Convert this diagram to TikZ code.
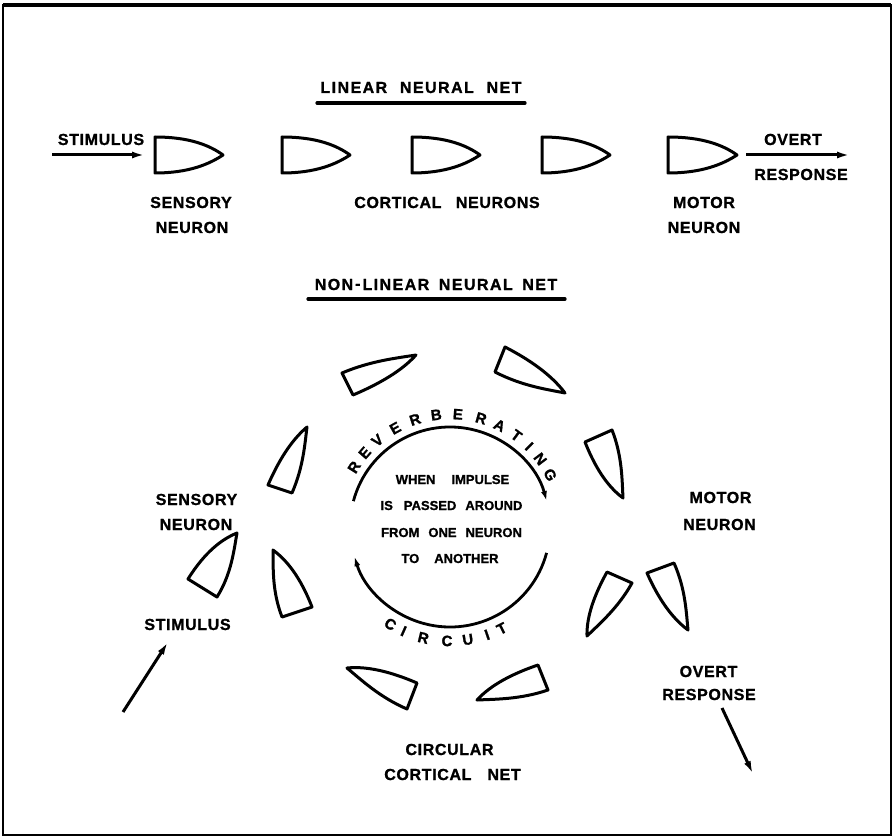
\documentclass[tikz,border=0pt]{standalone}
\usepackage{fontspec}
\setmainfont{Liberation Sans}
\newfontfamily\hb{Liberation Sans Bold}[FakeBold=1.2]
\newfontfamily\hbs{Liberation Sans Bold}[FakeBold=1.2,LetterSpace=4]
\newfontfamily\hbt{Liberation Sans Bold}[FakeBold=1.2,LetterSpace=9]
\usetikzlibrary{calc,arrows.meta}
\tikzset{
  neur/.style={line width=3pt, line join=round},
  lbl/.style={font=\hbs\fontsize{16}{16}\selectfont, inner sep=0pt, anchor=base},
  ttl/.style={font=\hbt\fontsize{16}{16}\selectfont, inner sep=0pt, anchor=base},
  inr/.style={font=\hb\fontsize{13}{13}\selectfont, inner sep=0pt, anchor=base},
  arcl/.style={font=\hb\fontsize{15}{15}\selectfont, inner sep=0pt},
  arr/.style={line width=3pt, -{Latex[length=13pt,width=7pt]}},
  circarr/.style={line width=2.8pt, -{Latex[length=10pt,width=6pt]}},
  uline/.style={line width=3.2pt, line cap=round}
}
% neuron: A = more curved back corner, B = other back corner, T = tip
\newcommand{\nrn}[4]{%
  \coordinate (#4A) at (#1); \coordinate (#4B) at (#2); \coordinate (#4T) at (#3);
  \coordinate (#4M) at ($(#4A)!0.5!(#4B)$);
  \coordinate (#4a1) at ($(#4A)+0.5*(#4T)-0.5*(#4M)$);
  \coordinate (#4a2) at ($0.8*(#4T)+0.55*(#4A)-0.35*(#4M)$);
  \coordinate (#4b1) at ($(#4B)+0.42*(#4T)-0.42*(#4M)$);
  \coordinate (#4b2) at ($0.75*(#4T)+0.38*(#4B)-0.13*(#4M)$);
  \draw[neur] (#4A) .. controls (#4a1) and (#4a2) .. (#4T) .. controls (#4b2) and (#4b1) .. (#4B) -- cycle;}
\newcommand{\nrnc}[4]{%
  \coordinate (#4A) at (#1); \coordinate (#4B) at (#2); \coordinate (#4T) at (#3);
  \coordinate (#4M) at ($(#4A)!0.5!(#4B)$);
  \coordinate (#4a1) at ($(#4A)+0.5*(#4T)-0.5*(#4M)$);
  \coordinate (#4a2) at ($0.8*(#4T)+0.55*(#4A)-0.35*(#4M)$);
  \coordinate (#4b1) at ($(#4B)+0.5*(#4T)-0.5*(#4M)$);
  \coordinate (#4b2) at ($0.8*(#4T)+0.5*(#4B)-0.3*(#4M)$);
  \draw[neur] (#4A) .. controls (#4a1) and (#4a2) .. (#4T) .. controls (#4b2) and (#4b1) .. (#4B) -- cycle;}
\begin{document}
\begin{tikzpicture}[x=1pt,y=-1pt]
\useasboundingbox (0,0) rectangle (894,837);
% frame
\draw[line width=2.2pt] (3,5) rectangle (891,835);
\draw[line width=4pt] (3,5) -- (891,5);

% ---------- linear neural net ----------
\node[ttl] (t1) at (421,93) {LINEAR\hspace{0.8em}NEURAL\hspace{0.8em}NET};
\draw[uline] (317,103) -- (525,103);

\nrnc{155,137}{155,173}{223,155}{L1}
\nrnc{282,137}{282,173}{350,155}{L2}
\nrnc{412,137}{412,173}{480,155}{L3}
\nrnc{542,137}{542,173}{610,155}{L4}
\nrnc{668,137}{668,173}{737,155}{L5}

\node[lbl] (stim1) at (101,145) {STIMULUS};
\coordinate (stimS) at (52,155);
\draw[arr, shorten >=10pt] (stimS) -- (L1M);
\node[lbl] (ov1) at (793,145) {OVERT};
\node[lbl] (rs1) at (801,180) {RESPONSE};
\coordinate (ovE) at (850,155);
\draw[arr, shorten <=9pt] (L5T) -- (ovE);

\node[lbl] (sn1) at (191,208) {SENSORY};
\node[lbl] (sn2) at (192,233) {NEURON};
\node[lbl] (cn1) at (447,208) {CORTICAL\hspace{0.9em}NEURONS};
\node[lbl] (mn1) at (704,208) {MOTOR};
\node[lbl] (mn2) at (704,233) {NEURON};

% ---------- non-linear neural net ----------
\node[ttl] (t2) at (436,290) {NON\hspace{2pt}\raisebox{1pt}{-}\hspace{2pt}LINEAR\hspace{0.6em}NEURAL\hspace{0.6em}NET};
\draw[uline] (308,299) -- (565,299);

\nrn{353,395}{342,373}{416,355}{C1}
\nrn{505,347}{495,372}{565,393}{C2}
\nrn{585,442}{612,430}{623,498}{C3}
\nrn{268,485}{292,493}{307,427}{C4}
\nrn{188,579}{217,597}{237,533}{C5}
\nrn{312,607}{282,617}{273,550}{C6}
\nrn{417,683}{407,709}{347,668}{C7}
\nrn{538,665}{548,690}{477,700}{C8}
\nrn{607,572}{632,583}{587,636}{C9}
\nrn{647,573}{674,563}{688,630}{C10}

% reverberating circuit
\coordinate (ctr) at (450,527);
\draw[circarr] ($(ctr)+(-165:100)$) arc[start angle=-165, end angle=-15, radius=100];
\draw[circarr] ($(ctr)+(15:100)$) arc[start angle=15, end angle=163, radius=100];

\foreach \ch/\ang [count=\i] in {R/148,E/139,V/130,E/119,R/108,B/97,E/86,R/74,A/64,T/54,I/45.5,N/37,G/27.5}
  \node[arcl, rotate=\ang-90] (rv\i) at ({450+113*cos(\ang)},{527-113*sin(\ang)}) {\ch};
\foreach \ch/\ang [count=\i] in {C/238.5,I/246,R/256.5,C/268.5,U/279,I/289,T/297}
  \node[arcl, rotate=\ang+90] (cc\i) at ({450+114*cos(\ang)},{527-114*sin(\ang)}) {\ch};

\node[inr] (w1) at (452.5,484) {WHEN\hspace{16pt}IMPULSE};
\node[inr] (w2) at (451.5,510) {IS\hspace{11pt}PASSED\hspace{9pt}AROUND};
\node[inr] (w3) at (451.5,537) {FROM\hspace{9pt}ONE\hspace{9pt}NEURON};
\node[inr] (w4) at (450,563) {TO\hspace{15pt}ANOTHER};

\node[lbl] (sl1) at (196.5,505) {SENSORY};
\node[lbl] (sl2) at (196,530) {NEURON};
\node[lbl] (ml1) at (720.5,503) {MOTOR};
\node[lbl] (ml2) at (719.5,530) {NEURON};

\node[lbl] (st2) at (187.5,630) {STIMULUS};
\coordinate (stA) at (123,712);
\coordinate (stB) at (168,642);
\draw[arr] (stA) -- (stB);

\node[lbl] (ov2) at (708.5,677) {OVERT};
\node[lbl] (rs2) at (709,700) {RESPONSE};
\coordinate (orA) at (722,708);
\coordinate (orB) at (753,774);
\draw[arr] (orA) -- (orB);

\node[lbl] (cc1l) at (449.5,755) {CIRCULAR};
\node[lbl] (cc2l) at (452.5,780) {CORTICAL\hspace{1em}NET};
\end{tikzpicture}
\end{document}
